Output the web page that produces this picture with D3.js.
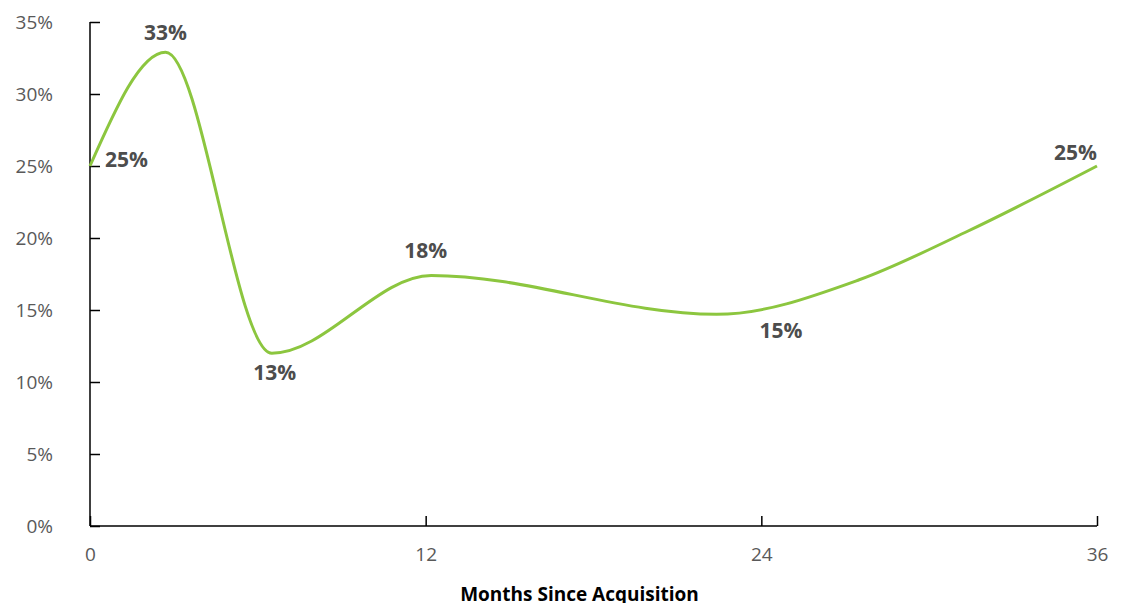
<!DOCTYPE html>
<html>
<head>
<meta charset="utf-8">
<script src="https://cdn.jsdelivr.net/npm/d3@7"></script>
<style>
  body { margin: 0; background: #fff; }
  svg { display: block; font-family: "Open Sans", "Noto Sans", sans-serif; }
  .axis { font-family: "Open Sans", "Noto Sans", sans-serif; }
  .tick text { fill: #595959; font-size: 19px; }
  .axis path, .axis line { stroke: #000; stroke-width: 1.5px; }
  .data_label { fill: #4d4d4d; font-size: 21px; font-weight: bold; }
  .x-axis-label { fill: #000; font-size: 19px; font-weight: bold; }
</style>
</head>
<body>
<div id="wrapper"></div>
<script>
// curve (months, percent)
const months = [0, 2.7, 6.5, 12.2, 22.4, 27.5, 31.3, 36]
const rates  = [25, 32.9, 12.0, 17.4, 14.7, 17.1, 20.4, 25]

const xTicks = [0, 12, 24, 36]
const yTicks = [0, 5, 10, 15, 20, 25, 30, 35]

// value labels
const labelMonths = [0, 2.7, 6.6, 12, 24.7, 36]
const labelRates  = [25, 33, 12, 17.5, 15, 25]
const labelTexts  = ["25%", "33%", "13%", "18%", "15%", "25%"]

const dataset = months.map((m, i) => ({ month: m, rate: rates[i] }))
const labels = labelMonths.map((m, i) => ({ month: m, rate: labelRates[i], text: labelTexts[i] }))

const xAccessor = d => d.month
const yAccessor = d => d.rate

let dimensions = {
  width: 1121,
  height: 603,
  margin: { top: 22, right: 24, bottom: 77, left: 90 },
}
dimensions.boundedWidth = dimensions.width - dimensions.margin.left - dimensions.margin.right
dimensions.boundedHeight = dimensions.height - dimensions.margin.top - dimensions.margin.bottom

const wrapper = d3.select("#wrapper")
  .append("svg")
    .attr("width", dimensions.width)
    .attr("height", dimensions.height)

const bounds = wrapper.append("g")
    .attr("transform", `translate(${dimensions.margin.left},${dimensions.margin.top})`)

const xScale = d3.scaleLinear()
  .domain([0, 36])
  .range([0, dimensions.boundedWidth])

const yScale = d3.scaleLinear()
  .domain([0, 35])
  .range([dimensions.boundedHeight, 0])

// axes
const xAxisGenerator = d3.axisBottom(xScale)
  .tickValues(xTicks)
  .tickSize(-10)
  .tickSizeOuter(0)
  .tickPadding(22)

const xAxis = bounds.append("g")
  .call(xAxisGenerator)
  .attr("class", "axis")
  .attr("font-family", null)
  .attr("transform", `translate(0,${dimensions.boundedHeight})`)

const yAxisGenerator = d3.axisLeft(yScale)
  .tickValues(yTicks)
  .tickSize(-10)
  .tickSizeOuter(0)
  .tickPadding(37)
  .tickFormat(d => d + "%")

const yAxis = bounds.append("g")
  .call(yAxisGenerator)
  .attr("class", "axis")
  .attr("font-family", null)

xAxis.select(".domain").attr("d", `M0,0H${dimensions.boundedWidth}`)
yAxis.select(".domain").attr("d", `M0,0V${dimensions.boundedHeight}`)

bounds.append("text")
  .attr("class", "x-axis-label")
  .attr("x", xScale(17.5))
  .attr("y", dimensions.boundedHeight + 75)
  .attr("text-anchor", "middle")
  .text("Months Since Acquisition")

// line
const lineGenerator = d3.line()
  .x(d => xScale(xAccessor(d)))
  .y(d => yScale(yAccessor(d)))
  .curve(d3.curveMonotoneX)

bounds.append("path")
  .datum(dataset)
  .attr("d", lineGenerator)
  .attr("fill", "none")
  .attr("stroke", "#8cc63f")
  .attr("stroke-width", 3)

// labels
const offsets = [
  { dx: 15, dy: 1, anchor: "start" },
  { dx: 0, dy: -11, anchor: "middle" },
  { dx: 0, dy: 27, anchor: "middle" },
  { dx: 0, dy: -16, anchor: "middle" },
  { dx: 0, dy: 28, anchor: "middle" },
  { dx: 0, dy: -6, anchor: "end" },
]

bounds.selectAll(".data_label")
  .data(labels)
  .enter()
  .append("text")
    .attr("class", "data_label")
    .attr("x", (d, i) => xScale(xAccessor(d)) + offsets[i].dx)
    .attr("y", (d, i) => yScale(yAccessor(d)) + offsets[i].dy)
    .attr("text-anchor", (d, i) => offsets[i].anchor)
    .text(d => d.text)
</script>
</body>
</html>
